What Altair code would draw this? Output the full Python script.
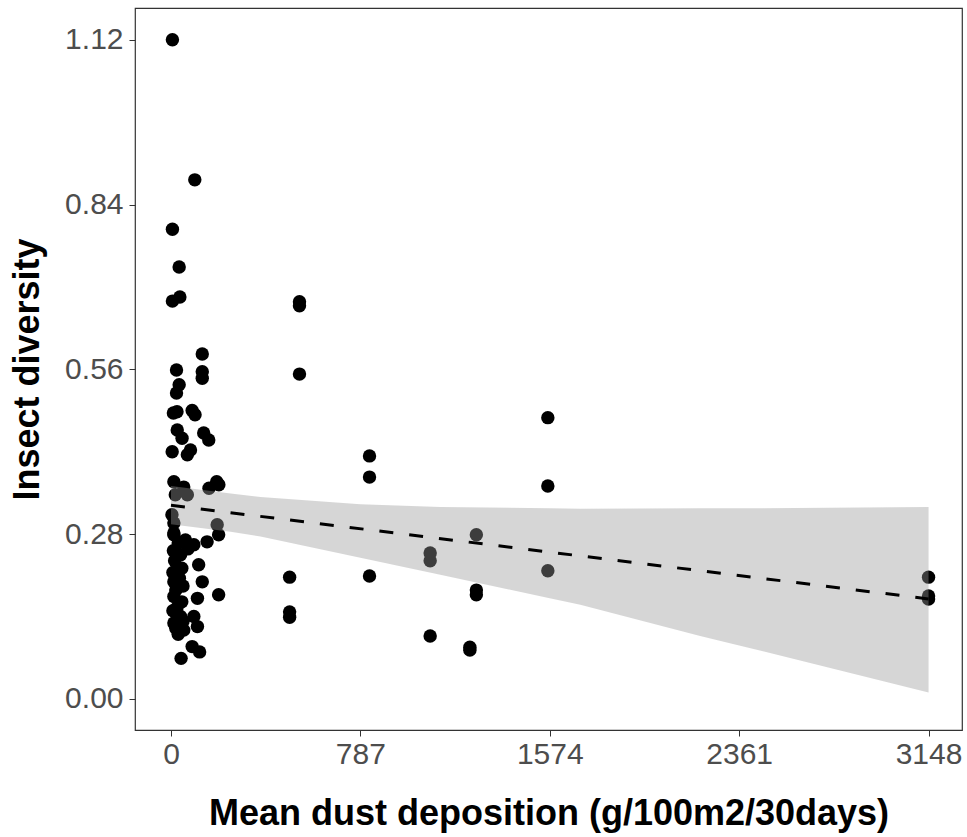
import altair as alt
import pandas as pd

# ---- data ----
dust = [6, 99, 6, 34, 6, 37, 130, 23, 130, 130, 34, 23,
        10, 25, 88, 100, 26, 46, 136, 157, 5, 81, 68,
        12, 53, 158, 199, 190,
        18, 68, 4, 12, 192, 12,
        12, 95, 150, 198, 115, 12, 130, 198, 110, 12, 95, 12, 53, 110, 88, 119, 42,
        30, 10, 40, 15, 45, 8, 35, 50, 20, 45, 25, 8, 40, 20, 50, 30, 60, 70,
        534, 534, 534, 825, 825, 825, 493, 493, 493,
        1077, 1077, 1077, 1269, 1269, 1269, 1242, 1242,
        1566, 1566, 1566, 3148, 3148, 3148]
diversity = [1.120, 0.882, 0.798, 0.734, 0.676, 0.683, 0.586, 0.559, 0.556, 0.545, 0.534, 0.520,
             0.486, 0.488, 0.490, 0.483, 0.457, 0.443, 0.452, 0.440, 0.420, 0.423, 0.415,
             0.369, 0.360, 0.358, 0.364, 0.369,
             0.347, 0.347, 0.313, 0.299, 0.296, 0.282,
             0.279, 0.262, 0.267, 0.279, 0.228, 0.199, 0.199, 0.177, 0.171, 0.174, 0.140, 0.129, 0.117, 0.123, 0.089, 0.080, 0.069,
             0.265, 0.252, 0.245, 0.235, 0.222, 0.215, 0.205, 0.192, 0.185, 0.165, 0.155, 0.150, 0.140, 0.120, 0.132, 0.110, 0.270, 0.255,
             0.675, 0.668, 0.552, 0.413, 0.377, 0.209, 0.207, 0.148, 0.139,
             0.248, 0.235, 0.107, 0.279, 0.185, 0.177, 0.088, 0.083,
             0.478, 0.362, 0.218, 0.207, 0.175, 0.170]

fit_x = [0, 3148]
fit_y = [0.329, 0.170]

band_x = [0, 248, 372, 787, 1119, 1574, 1701, 2199, 2361, 3148]
band_hi = [0.362, 0.349, 0.343, 0.331, 0.326, 0.324, 0.323, 0.324, 0.324, 0.326]
band_lo = [0.297, 0.284, 0.276, 0.240, 0.211, 0.171, 0.160, 0.107, 0.091, 0.011]

x_ticks = [0, 787, 1574, 2361, 3148]
y_ticks = [0.00, 0.28, 0.56, 0.84, 1.12]

FONT = "Liberation Sans, Arial, sans-serif"

pts = pd.DataFrame({"x": dust, "y": diversity})
fit = pd.DataFrame({"x": fit_x, "y": fit_y})
band = pd.DataFrame({"x": band_x, "lo": band_lo, "hi": band_hi})

xscale = alt.Scale(domain=[-149.5, 3287], nice=False, zero=False)
yscale = alt.Scale(domain=[-0.0527, 1.174], nice=False, zero=False)

xaxis = alt.Axis(values=x_ticks, format="d", title="Mean dust deposition (g/100m2/30days)",
                 grid=False, domain=False, tickSize=6, tickColor="#333333", tickWidth=1,
                 labelFontSize=30, labelColor="#4D4D4D", labelFont=FONT, labelPadding=3,
                 titleFontSize=36, titleFont=FONT, titleFontWeight="bold", titleColor="black",
                 titlePadding=27)
yaxis = alt.Axis(values=y_ticks, format=".2f", title="Insect diversity",
                 grid=False, domain=False, tickSize=6, tickColor="#333333", tickWidth=1,
                 labelFontSize=30, labelColor="#4D4D4D", labelFont=FONT, labelPadding=6,
                 titleFontSize=36, titleFont=FONT, titleFontWeight="bold", titleColor="black",
                 titlePadding=18)

points = alt.Chart(pts).mark_circle(size=180, color="black", opacity=1).encode(
    x=alt.X("x:Q", scale=xscale, axis=xaxis),
    y=alt.Y("y:Q", scale=yscale, axis=yaxis),
)

ribbon = alt.Chart(band).mark_area(color="#999999", opacity=0.4).encode(
    x=alt.X("x:Q", scale=xscale),
    y=alt.Y("lo:Q", scale=yscale),
    y2="hi:Q",
)

line = alt.Chart(fit).mark_line(color="black", strokeWidth=3, strokeDash=[14, 16]).encode(
    x=alt.X("x:Q", scale=xscale),
    y=alt.Y("y:Q", scale=yscale),
)

chart = alt.layer(points, ribbon, line).properties(
    width=827, height=722,
    padding={"left": 135, "top": 8, "right": 5, "bottom": 107},
    autosize=alt.AutoSizeParams(type="none"),
    background="white",
).configure_view(stroke="#333333", strokeWidth=1.2)

chart.save("out.html", embed_options={"renderer": "svg", "actions": False})
